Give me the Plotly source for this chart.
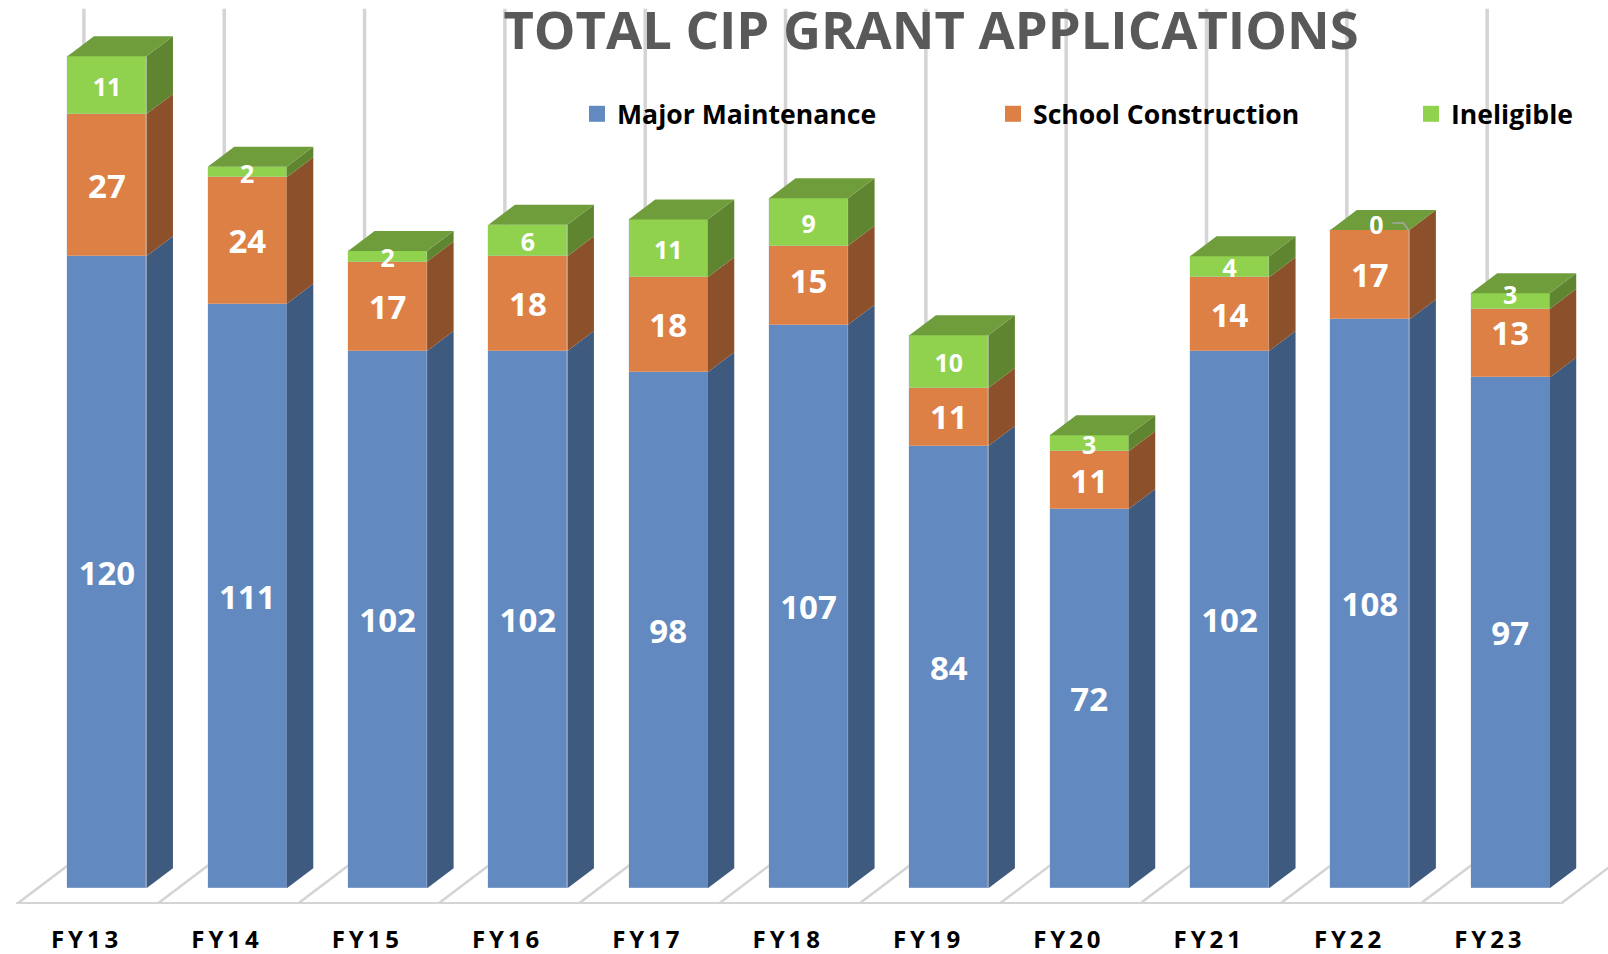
import plotly.graph_objects as go

categories = ["FY13", "FY14", "FY15", "FY16", "FY17", "FY18", "FY19", "FY20", "FY21", "FY22", "FY23"]
major_maintenance = [120, 111, 102, 102, 98, 107, 84, 72, 102, 108, 97]
school_construction = [27, 24, 17, 18, 18, 15, 11, 11, 14, 17, 13]
ineligible = [11, 2, 2, 6, 11, 9, 10, 3, 4, 0, 3]

series = [
    ("Major Maintenance", major_maintenance, "#628ac0", "#3f5a7f", 33),
    ("School Construction", school_construction, "#dd8046", "#8c512b", 33),
    ("Ineligible", ineligible, "#90d24e", "#5f8531", 25),
]
TOP_COLOR = "#709d3c"
GRID = "#d4d4d4"
FONT = "Open Sans"

BAR_W = 0.563
DX, DY = 0.189, 3.8
XS = list(range(len(categories)))
FLOOR_X, FLOOR_Y = -0.645, -3.04
FLOOR_DX, FLOOR_DY = 0.481, 9.7
X_RANGE = [-0.762, 10.697]
Y_RANGE = [-2.98, 168.66]
LEGEND_X = [577, 993, 1411]
LABEL_SHIFT = -0.82
# a few labels sit off their segment's centre in the reference
LABEL_NUDGE = {("School Construction", "FY23"): 2.1, ("School Construction", "FY18"): 1.0,
               ("Ineligible", "FY23"): 1.4}

fig = go.Figure()

# front faces: real stacked bars
for name, vals, col, side, size in series:
    fig.add_trace(go.Bar(
        x=XS, y=vals, width=BAR_W, name=name, showlegend=False,
        marker=dict(color=col, line=dict(color="rgba(200,205,215,0.6)", width=0.5)),
        hoverinfo="skip",
    ))

# side faces
base = [0] * len(categories)
label_traces = []
for name, vals, col, side, size in series:
    px, py, lx, ly, lt = [], [], [], [], []
    for i, v in zip(XS, vals):
        r = i + BAR_W / 2
        y0, y1 = base[i], base[i] + v
        px += [r, r + DX, r + DX, r, r, None]
        py += [y0, y0 + DY, y1 + DY, y1, y0, None]
        if v:
            lx.append(i)
            ly.append((y0 + y1) / 2 + LABEL_SHIFT + LABEL_NUDGE.get((name, categories[i]), 0))
            lt.append(str(v))
        base[i] = y1
    fig.add_trace(go.Scatter(x=px, y=py, mode="lines", fill="toself", fillcolor=side,
                             line=dict(width=0, color=side), showlegend=False, hoverinfo="skip"))
    label_traces.append(go.Scatter(x=lx, y=ly, text=lt, mode="text", textposition="middle center",
                                   textfont=dict(family=FONT, size=size, color="white", weight="bold"),
                                   showlegend=False, hoverinfo="skip"))

# top faces
px, py = [], []
for i in XS:
    l, r = i - BAR_W / 2, i + BAR_W / 2
    t = base[i]
    px += [l, r, r + DX, l + DX, l, None]
    py += [t, t, t + DY, t + DY, t, None]
fig.add_trace(go.Scatter(x=px, y=py, mode="lines", fill="toself", fillcolor=TOP_COLOR,
                         line=dict(width=0, color=TOP_COLOR), showlegend=False, hoverinfo="skip"))

# value labels above every face
for tr in label_traces:
    fig.add_trace(tr)

# leader line and label for the zero-height segment
for i, v in zip(XS, ineligible):
    if v == 0:
        t = base[i]
        fig.add_trace(go.Scatter(
            x=[i + 0.16, i + 0.239, i + 0.274], y=[t + 1.3, t + 1.3, t],
            mode="lines", line=dict(color="#a6a6a6", width=1.5), showlegend=False, hoverinfo="skip"))
        fig.add_trace(go.Scatter(x=[i + 0.046], y=[t + 0.5], text=[str(v)], mode="text",
                                 textposition="middle center",
                                 textfont=dict(family=FONT, size=25, color="white", weight="bold"),
                                 showlegend=False, hoverinfo="skip"))

# legend entries, one legend each so they can sit at their own positions
legend_ids = ["legend", "legend2", "legend3"]
for (name, vals, col, side, size), lid in zip(series, legend_ids):
    fig.add_trace(go.Scatter(x=[None], y=[None], mode="markers", name=name, legend=lid,
                             marker=dict(symbol="square", size=19, color=col)))

# back wall and floor
shapes = []
for i in range(len(categories) + 1):
    fx = FLOOR_X + i
    shapes.append(dict(type="line", layer="below", xref="x", yref="y",
                       x0=fx, y0=FLOOR_Y, x1=fx + FLOOR_DX, y1=FLOOR_Y + FLOOR_DY,
                       line=dict(color=GRID, width=2.5)))
    shapes.append(dict(type="line", layer="below", xref="x", yref="y",
                       x0=fx + FLOOR_DX, y0=FLOOR_Y + FLOOR_DY, x1=fx + FLOOR_DX, y1=167,
                       line=dict(color=GRID, width=3.5)))
shapes.append(dict(type="line", layer="below", xref="x", yref="y",
                   x0=FLOOR_X, y0=FLOOR_Y + 0.1, x1=FLOOR_X + len(categories), y1=FLOOR_Y + 0.1,
                   line=dict(color=GRID, width=3.5)))

legend_common = dict(orientation="v", xanchor="left", y=1 - 90 / 904, yanchor="top",
                     bgcolor="rgba(0,0,0,0)", itemclick=False,
                     font=dict(family=FONT, size=26.6, color="#000000", weight="bold"))

fig.update_layout(
    width=1608, height=954, barmode="stack", bargap=0,
    margin=dict(l=0, r=0, t=0, b=50, pad=0, autoexpand=False),
    paper_bgcolor="white", plot_bgcolor="white", shapes=shapes,
    font=dict(family=FONT),
    title=dict(text="TOTAL CIP GRANT APPLICATIONS",
               x=931 / 1608, xanchor="center", y=1 - 31 / 954, yanchor="middle",
               font=dict(family=FONT, size=52.5, color="#595959", weight="bold")),
    legend=dict(x=LEGEND_X[0] / 1608, **legend_common),
    legend2=dict(x=LEGEND_X[1] / 1608, **legend_common),
    legend3=dict(x=LEGEND_X[2] / 1608, **legend_common),
    xaxis=dict(range=X_RANGE, tickmode="array", tickvals=[x + FLOOR_X + 0.5 for x in XS],
               ticktext=[f'<span style="letter-spacing:3.9px">{c}</span>' for c in categories],
               ticks="", showgrid=False, zeroline=False, showline=False, ticklabelstandoff=19,
               tickfont=dict(family=FONT, size=24, color="#000000", weight="bold")),
    yaxis=dict(range=Y_RANGE, visible=False, showgrid=False, zeroline=False),
)

fig.write_html("out.html", post_script="document.body.style.margin='0';",
               config={"displayModeBar": False})
